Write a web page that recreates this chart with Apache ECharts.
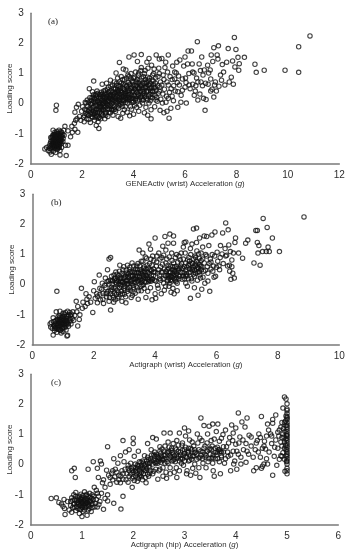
<!DOCTYPE html>
<html><head><meta charset="utf-8">
<style>html,body{margin:0;padding:0;background:#fff}#c{width:354px;height:550px;filter:blur(.35px)}</style>
<script src="https://cdn.jsdelivr.net/npm/echarts@6/dist/echarts.min.js"></script></head>
<body><div id="c"></div>
<script>
const panelLabels=['(a)','(b)','(c)'];
const yName='Loading score';
const xNames=['GENEActiv (wrist) Acceleration (','Actigraph (wrist) Acceleration (','Actigraph (hip) Acceleration ('];
const xMax=[12,10,6];
const xStep=[2,2,1];
const pointsA=[
[.55,-1.5],[.62,-1.45],[.68,-1.55],[.72,-1.4],[.75,-1.6],[.78,-1.25],[.8,-1.68],[.8,-1.5],[.82,-1.35],[.85,-1.1],[.85,-1.45],[.87,-.88],[.88,-1.2],[.88,-1.58],[.9,-1.02],[.9,-1.3],[.92,-1.48],[.92,-1.15],[.94,-.95],[.95,-1.38],[.95,-1.25],[.97,-1.62],[.98,-1.08],[1,-1.42],[1,-1.18],[1,-1.3],[1.02,-.92],[1.03,-1.52],[1.05,-1.22],[1.05,-1.35],[1.07,-1.05],[1.08,-1.45],[1.1,-.88],[1.1,-1.28],[1.12,-1.12],[1.12,-1.38],[1.14,-1.55],[1.15,-1],[1.15,-1.2],[1.18,-1.32],[1.2,-.95],[1.2,-1.45],[1.22,-1.1],[1.25,-1.25],[1.28,-.88],[1.3,-1.05],[1.35,-1.38],[.83,-1.22],[.86,-1.32],[.89,-1.12],[.93,-1.36],[.96,-1.16],[.99,-1.24],[1.01,-1.1],[1.04,-1.42],[1.06,-1.14],[1.09,-1.2],[1.11,-1.33],[1.13,-1.06],[1.17,-1.12],[.91,-1.22],[.97,-1.32],[1.03,-1.28],[1.08,-1],[.94,-1.08],[.87,-1.4],[1.14,-1.7],[1.38,-1.72],[1.0,-.05],[.98,-.22],
[1.33,-.75],[1.45,-.9],[1.55,-1.1],[1.62,-.95],[1.6,-.75],[1.7,-.65],[1.75,-.55],[1.83,-.95],[1.72,-.85],[1.45,-1.38],[1.8,-.5],[1.9,-.42],[1.85,-.02],[1.78,-.12],[1.72,-.28],[1.95,-.55],[1.98,-.25],[2.02,-.1],[2.05,-.45],[2.08,-.6],[2.1,-.18],[2.12,.05],[2.15,-.32],[2.18,-.5],[2.2,.12],[2.22,-.08],[2.25,-.38],[2.28,.5],[2.28,-.2],[2.32,-.62],[2.35,0],[2.35,-.28],[2.38,.2],[2.4,.4],[2.4,-.45],[2.42,-.12],[2.45,.75],[2.45,.08],[2.48,-.55],[2.5,-.3],[2.52,.28],[2.52,-.05],[2.55,-.72],[2.55,-.18],[2.58,.42],[2.6,.1],[2.6,-.42],[2.62,-.6],[2.65,-.82],[2.65,-.1],[2.68,.3],[2.68,-.28],[2.7,.02],[2.72,.18],[2.72,-.5],[2.75,.38],[2.75,-.2],[2.78,.65],[2.78,-.02],[2.8,-.38],[2.82,.12],[2.85,.25],[2.85,-.12],[2.88,-.5],[2.9,.45],[2.9,.05],[2.92,-.28],[2.95,.68],[2.95,.15],[2.98,-.05],[3,.32],[3,-.42],[3.02,.55],[3.05,.08],[3.05,-.18],[3.08,.22],[3.1,.78],[3.1,-.3],[3.12,.42],[3.15,0],[3.18,.62],[3.18,.15],[3.2,-.38],[3.22,.3],[3.25,.72],[3.25,-.1],[3.28,.48],[3.3,.18],[3.3,-.25],[3.32,1.02],[3.35,.6],[3.35,.05],[3.38,.85],[3.4,.35],[3.4,-.42],[3.42,-.15],[3.45,1.37],[3.45,.72],[3.45,.22],[3.48,.5],[3.5,-.02],[3.5,-.48],[3.52,.9],[3.55,.38],[3.55,.12],[3.58,-.32],[3.6,1.15],[3.6,.65],[3.62,.25],[3.65,.8],[3.65,.45],[3.68,-.1],[3.7,1.12],[3.7,.05],[3.72,.58],[3.75,-.28],[3.78,.95],[3.8,.3],[3.8,.7],[3.82,1.55],[3.85,.15],[3.85,-.4],[3.88,.5],[3.9,1],[3.9,.82],[3.92,-.18],[3.95,.38],[3.98,.62],[4,.05],[4,-.35],[4.02,1.62],[4.05,.25],[4.05,.88],[4.08,.48],[4.1,.72],[4.12,-.12],[4.15,1.4],[4.15,.55],[4.18,.32],[4.2,1.02],[4.2,-.25],[4.22,.15],[4.25,.78],[4.28,.42],[4.3,1.63],[4.3,1.2],[4.32,.62],[4.35,.02],[4.38,.9],[4.4,.35],[4.42,-.3],[4.45,1.1],[4.45,.52],[4.48,.72],[4.5,.18],[4.52,1.38],[4.55,-.38],[4.55,.88],[4.58,.42],[4.6,1.5],[4.62,.62],[4.65,.1],[4.68,-.5],[4.7,1.28],[4.72,.78],[4.75,.3],[4.78,1],[4.8,.52],[4.82,-.1],[4.85,.68],[4.88,1.62],[4.9,.2],[4.95,.9],[4.98,1.18],[5,1.48],[5,.42],[5.03,-.22],[5.05,.72],[5.1,1.5],[5.12,.02],[5.15,.95],[5.18,-.3],[5.2,.48],[5.25,1.38],[5.28,.25],[5.3,-.25],[5.32,1.05],[5.35,1.62],[5.35,.62],[5.38,-.48],[5.4,.38],[5.45,-.15],[5.5,.8],[5.52,1.25],[5.55,.1],[5.6,1.05],[5.62,.42],[5.68,1.38],[5.7,.7],[5.72,-.12],[5.75,.92],[5.8,1.45],[5.85,.28],[5.9,.82],[5.95,1.25],[6,1.55],[6,.55],[6.02,.85],[6.05,.02],[6.1,1.32],[6.12,1.75],[6.15,1],[6.2,.5],[6.25,1.75],[6.28,1.32],[6.3,.65],[6.35,1.02],[6.4,.42],[6.45,.85],[6.48,2.06],[6.5,.12],[6.55,1.32],[6.58,.32],[6.62,.72],[6.65,1.55],[6.7,.95],[6.72,.18],[6.75,1.12],[6.78,-.22],[6.8,.68],[6.82,.14],[6.88,1.28],[6.92,1.02],[6.98,1.12],[7.0,.82],[7.02,1.62],[7.05,.48],[7.08,1.4],[7.12,.22],[7.12,1.86],[7.18,.72],[7.22,.42],[7.25,1.62],[7.28,1.48],[7.3,1.92],[7.32,.58],[7.38,.95],[7.42,.78],[7.45,1.3],[7.5,1.05],[7.55,.62],[7.62,1.38],[7.68,1.83],[7.72,.72],[7.8,.88],[7.85,1.42],[7.88,.65],[7.92,2.2],[7.98,1.8],[7.94,1.22],[8.06,1.54],[8.11,1.33],[8.09,1.11],[8.31,1.54],[8.72,1.31],[8.77,1.04],[9.08,1.11],[9.89,1.11],[10.42,1.89],[10.42,1.04],[10.86,2.25],
[2.3,-.15],[2.45,-.25],[2.5,.15],[2.55,-.4],[2.62,.05],[2.66,.2],[2.7,-.12],[2.74,-.35],[2.8,.22],[2.84,-.22],[2.88,.35],[2.92,-.1],[2.96,.24],[3.02,.12],[3.06,.4],[3.12,-.08],[3.16,.26],[3.2,.06],[3.26,.35],[3.3,.5],[3.36,-.12],[3.42,.42],[3.46,.08],[3.52,.3],[3.58,.52],[3.62,.1],[3.68,.34],[3.74,.6],[3.78,.2],[3.84,.44],[3.92,.28],[3.98,.18],[4.06,.6],[4.14,.38],[4.2,.5],[4.26,.6],[4.34,.48],[4.42,.68],[4.5,.58],[4.58,.25],[4.66,.42]
];
const extraA=[
[.82,-1.12],[.84,-1.28],[.86,-1.05],[.88,-1.36],[.9,-1.42],[.92,-1.05],[.93,-1.29],[.95,-1.02],[.96,-1.44],[.98,-1.18],[.99,-1.36],[1.01,-1],[1.02,-1.2],[1.03,-1.38],[1.05,-1.1],[1.05,-1.48],[1.06,-.98],[1.08,-1.3],[1.09,-1.38],[1.1,-1.08],[1.11,-1.45],[1.13,-1.25],[1.14,-1.16],[1.16,-1.28],[1.17,-.92],[1.19,-1.06],[1.2,-1.22],[1.24,-1.02],[1.26,-1.15],[.8,-1.42],[.78,-1.12],[.76,-1.32],[.74,-1.48],
[2.1,-.4],[2.15,.02],[2.18,-.22],[2.2,-.35],[2.24,.05],[2.26,-.52],[2.3,.2],[2.32,-.35],[2.34,.1],[2.38,-.18],[2.4,.02],[2.42,-.35],[2.44,.3],[2.46,-.1],[2.48,.18],[2.5,-.45],[2.52,.05],[2.54,-.28],[2.56,.22],[2.58,-.05],[2.6,-.3],[2.62,.35],[2.64,-.2],[2.66,.05],[2.68,-.45],[2.7,.25],[2.72,-.08],[2.74,.1],[2.76,-.3],[2.78,.32],[2.8,.02],[2.82,-.18],[2.84,.42],[2.86,.08],[2.88,-.05],[2.9,.2],[2.92,-.38],[2.94,.3],[2.96,0],[2.98,.48],[3,.1],[3,-.15],[3.02,.38],[3.04,-.28],[3.06,.18],[3.08,-.05],[3.1,.3],[3.12,.58],[3.14,-.18],[3.16,.12],[3.18,.38],[3.2,-.05],[3.22,.52],[3.24,.1],[3.26,.22],[3.28,-.18],[3.3,.38],[3.32,.08],[3.34,.68],[3.36,.25],[3.38,.45],[3.4,.12],[3.42,.6],[3.44,-.05],[3.46,.32],[3.48,.15],[3.5,.42],[3.52,.68],[3.54,.02],[3.56,.25],[3.58,.8],[3.6,.12],[3.62,.48],[3.64,-.2],[3.66,.62],[3.68,.18],[3.7,.4],[3.72,.85],[3.74,.28],[3.76,.02],[3.78,.5],[3.8,.12],[3.82,.9],[3.84,.65],[3.86,.32],[3.88,-.1],[3.9,.18],[3.92,.55],[3.94,.75],[3.96,.05],[3.98,.42],[4,.85],[4.02,.28],[4.04,-.05],[4.06,.42],[4.08,1.05],[4.1,.18],[4.12,.62],[4.14,.8],[4.16,.1],[4.18,.95],[4.2,.28],[4.22,.68],[4.24,-.05],[4.26,.4],[4.28,1.1],[4.3,.22],[4.32,.85],[4.34,.3],[4.36,.68],[4.38,.12],[4.4,.55],[4.42,1],[4.44,.22],[4.46,.8],[4.48,-.12],[4.5,.4],[4.52,.7],[4.54,.12],[4.56,1.18],[4.58,.62],[4.6,.02],[4.62,.85],[4.64,.3],[4.66,.68],[4.68,-.2],[4.7,.55],[4.72,.2],[4.74,.95],[4.76,.4],[4.78,.62],[4.8,1.15],[4.84,.28],[4.86,.85],[4.88,.45],[4.92,.08],[4.94,.6],[4.96,.35],[5,1],[5.02,.55],[5.06,.15],[5.1,.62],[5.14,.32],[5.18,.8],[5.22,1.2],[5.26,.05],[5.3,.72],[5.35,.18],[5.42,.9],[5.46,.5],[5.5,.25],[5.56,.6],[5.6,.82],[5.66,1.02],[5.72,.4],[5.78,.62],[5.84,.05],[5.9,.45],[6.04,.7],[6.16,.62],[6.3,1.05],[6.36,.28],[6.42,.6],[6.5,.72],[6.6,1.1],[6.68,.6],[6.9,.65],[7,.42],[7.15,.62],
[2.25,-.25],[2.33,-.02],[2.37,-.42],[2.43,.22],[2.47,-.34],[2.53,-.22],[2.57,.32],[2.63,-.48],[2.67,-.02],[2.73,.3],[2.77,-.12],[2.83,.02],[2.87,.18],[2.91,-.32],[2.97,.08],[3.03,-.08],[3.07,.28],[3.13,.18],[3.17,-.22],[3.23,-.2],[3.27,.12],[3.33,.28],[3.37,.4],[3.43,.02],[3.47,.58],[3.53,.2],[3.57,-.08],[3.63,.35],[3.67,.28],[3.73,.12],[3.77,.42],[3.83,.22],[3.87,.62],[3.93,.1],[3.97,.72],[4.03,.5],[4.07,.12],[4.13,.25],[4.17,.7],[4.23,.52],[4.27,.22],[4.33,.12],[4.37,.4],[4.43,.28],[4.47,.55],[4.53,.42],[4.57,.78],[4.63,.5],[4.67,.22],[4.73,.42],[4.77,.75],[4.83,.55],[4.87,.12]
];
const pointsB=[
[.58,-1.3],[.6,-1.4],[.62,-1.25],[.65,-1.45],[.68,-1.67],[.68,-1.1],[.7,-1.35],[.72,-1.52],[.74,-1.22],[.76,-1.42],[.78,-.9],[.78,-1.3],[.8,-1.58],[.82,-1.15],[.84,-1.4],[.86,-1.28],[.88,-1.02],[.9,-.88],[.9,-1.5],[.9,-1.2],[.92,-1.36],[.94,-1.6],[.96,-1.1],[.96,-1.28],[.98,-1.45],[1,-.95],[1,-1.18],[1,-1.55],[1.02,-1.32],[1.04,-1.05],[1.06,-1.42],[1.06,-1.22],[1.08,-.92],[1.1,-1.12],[1.1,-1.5],[1.12,-1.3],[1.13,-1.7],[1.15,-.88],[1.15,-1.68],[1.16,-1.05],[1.18,-1.38],[1.2,-1.2],[1.22,-.92],[1.24,-1.02],[1.26,-1.3],[1.3,-1.12],[1.32,-.9],[1.35,-1.18],[1.38,-1.02],[.8,-.22],[.84,-1.34],[.88,-1.14],[.93,-1.24],[.97,-1.38],[1.03,-1.16],[1.07,-1.3],[1.11,-1.2],[.86,-1.48],[.75,-1.3],
[1.43,-.55],[1.45,-.9],[1.48,-.72],[1.48,-1.37],[1.53,-1.15],[1.55,-1],[1.6,-.12],[1.63,-.78],[1.65,-.58],[1.72,-.72],[1.75,-.3],[1.78,-.48],[1.8,-.62],[1.85,-.4],[1.9,-.58],[1.97,-.92],[2,-.2],[2.02,.1],[2.05,-.45],[2.1,-.3],[2.12,-.6],[2.18,.32],[2.2,-.12],[2.22,-.5],[2.28,.05],[2.3,-.28],[2.32,-.62],[2.38,.22],[2.4,-.1],[2.42,-.4],[2.45,.5],[2.48,.12],[2.5,-.55],[2.5,.85],[2.55,.9],[2.55,-.84],[2.55,-.2],[2.58,.28],[2.6,.02],[2.62,-.35],[2.65,-.58],[2.68,.2],[2.7,-.12],[2.72,.42],[2.75,.05],[2.78,-.45],[2.8,-.25],[2.82,.3],[2.85,.65],[2.88,.12],[2.9,-.05],[2.92,-.55],[2.95,.5],[2.98,.22],[3,-.32],[3.02,.05],[3.05,-.6],[3.08,.38],[3.1,.65],[3.12,-.15],[3.15,.12],[3.18,.58],[3.2,.3],[3.22,-.42],[3.25,.72],[3.28,-.02],[3.3,.2],[3.32,.45],[3.35,-.28],[3.38,.08],[3.4,.62],[3.42,.3],[3.45,-.48],[3.48,1.15],[3.5,.15],[3.52,.5],[3.55,.78],[3.55,-.2],[3.58,.35],[3.6,1.05],[3.62,0],[3.65,.6],[3.68,.22],[3.7,-.42],[3.72,.88],[3.75,.42],[3.78,.1],[3.8,1.35],[3.82,.7],[3.85,1.18],[3.85,-.1],[3.88,.3],[3.9,-.5],[3.92,.95],[3.95,.52],[3.98,.15],[4,1.55],[4,-.3],[4.02,-.45],[4.05,.75],[4.08,.38],[4.1,-.12],[4.12,1.05],[4.15,.2],[4.18,.6],[4.2,-.3],[4.22,.9],[4.25,1.28],[4.25,.42],[4.28,.05],[4.3,-.18],[4.32,1.6],[4.35,.72],[4.35,1.15],[4.4,.32],[4.42,1.38],[4.45,.55],[4.45,-.05],[4.48,1.68],[4.5,.15],[4.52,-.25],[4.55,.8],[4.58,.38],[4.6,1.38],[4.6,1.62],[4.62,-.3],[4.65,.6],[4.68,.1],[4.7,1],[4.72,-.2],[4.75,.48],[4.8,.28],[4.82,.82],[4.85,1.05],[4.9,.55],[4.92,1.25],[4.95,1.4],[5,1.42],[5,.05],[5,.72],[5.02,.35],[5.05,-.05],[5.1,.9],[5.12,.52],[5.15,1.2],[5.15,-.45],[5.18,.2],[5.2,1.35],[5.22,.7],[5.25,1.85],[5.28,-.1],[5.3,.95],[5.32,.38],[5.35,1.4],[5.35,1.88],[5.38,.58],[5.4,-.35],[5.42,1.02],[5.45,1.55],[5.48,.22],[5.5,.8],[5.52,-.15],[5.55,1.25],[5.58,.45],[5.6,1.62],[5.62,.05],[5.65,1],[5.68,1.6],[5.7,.6],[5.72,.12],[5.75,1.3],[5.78,-.22],[5.8,.85],[5.82,.75],[5.85,1.65],[5.88,.45],[5.92,.25],[5.95,1.75],[5.97,.28],[6,.58],[6.02,1.08],[6.1,.5],[6.13,1.3],[6.18,1.02],[6.2,1.72],[6.22,.7],[6.28,1.2],[6.3,2.05],[6.33,.98],[6.38,1.82],[6.4,1.32],[6.42,.65],[6.43,.45],[6.45,1.1],[6.47,.18],[6.5,.82],[6.53,.38],[6.55,1.05],[6.58,.22],[6.6,1.4],[6.62,1.55],[6.72,1.05],[6.85,.88],[6.95,1.38],[7.02,1.48],[7.22,.72],[7.28,1.8],[7.33,1.8],[7.33,1.4],[7.35,1.05],[7.38,1.3],[7.42,.65],[7.5,1.1],[7.52,2.2],[7.62,1.1],[7.65,1.9],[7.68,1.25],[7.72,1.1],[7.82,1.55],[8.05,1.1],[8.85,2.25],
[2.6,-.15],[2.68,-.28],[2.74,.14],[2.78,.25],[2.84,-.1],[2.88,-.32],[2.94,.08],[2.98,-.12],[3.04,.28],[3.08,.02],[3.14,.36],[3.18,-.08],[3.24,.16],[3.28,-.24],[3.32,.08],[3.36,.28],[3.42,-.1],[3.46,.4],[3.52,.18],[3.56,.08],[3.6,.42],[3.64,.26],[3.7,.52],[3.76,.18],[3.82,.36],[3.9,.2],[4.35,.3],[4.4,.5],[4.45,.22],[4.5,.42],[4.55,.12],[4.6,.3],[4.65,.45],[4.7,.22],[5.2,.5],[5.25,.35],[5.3,.62],[5.35,.78],[5.4,.42],[5.45,.66],[5.5,.5],[5.55,.85]
];
const extraB=[
[.7,-1.22],[.72,-1.38],[.74,-1.45],[.78,-1.18],[.8,-1.36],[.82,-1.48],[.84,-1.06],[.86,-1.2],[.88,-1.4],[.9,-1.08],[.92,-1.52],[.94,-1.18],[.95,-1.32],[.98,-1.05],[.99,-1.26],[1.01,-1.42],[1.02,-1.12],[1.04,-1.28],[1.05,-.98],[1.08,-1.18],[1.09,-1.38],[1.12,-1.05],[1.14,-1.22],[1.17,-1.3],[1.19,-1],[1.22,-1.12],[1.25,-1.2],[1.28,-.98],
[2.12,-.38],[2.2,-.32],[2.26,-.15],[2.3,-.48],[2.36,-.02],[2.4,-.3],[2.44,.1],[2.46,-.22],[2.5,.02],[2.52,-.42],[2.54,.15],[2.58,-.08],[2.62,.12],[2.64,-.42],[2.66,.32],[2.7,-.5],[2.72,.08],[2.74,-.32],[2.76,.35],[2.8,.1],[2.82,-.4],[2.84,.45],[2.86,0],[2.88,.22],[2.9,-.22],[2.92,.38],[2.96,.1],[2.98,.6],[3,-.05],[3.02,.25],[3.04,-.4],[3.06,.48],[3.08,.15],[3.1,-.22],[3.12,.28],[3.14,.02],[3.16,.5],[3.2,-.18],[3.22,.12],[3.24,.42],[3.26,-.35],[3.28,.3],[3.3,.62],[3.34,.18],[3.36,.52],[3.38,-.05],[3.4,.4],[3.42,.12],[3.44,.7],[3.46,-.2],[3.48,.25],[3.5,.62],[3.54,-.05],[3.56,.45],[3.58,.15],[3.6,.78],[3.62,.3],[3.64,-.12],[3.66,.42],[3.68,.92],[3.7,.08],[3.72,.3],[3.74,.65],[3.76,-.22],[3.78,.55],[3.8,.15],[3.84,.5],[3.86,.85],[3.88,.12],[3.9,.65],[3.94,.3],[3.96,.8],[4,.42],[4.02,.12],[4.04,.62],[4.06,.95],[4.08,-.02],[4.12,.5],[4.14,.3],[4.16,.85],[4.18,.15],[4.2,.42],[4.24,.68],[4.26,.2],[4.28,.98],[4.3,.52],[4.32,.3],[4.34,-.05],[4.36,.45],[4.38,.85],[4.4,.12],[4.42,.65],[4.44,.3],[4.46,.92],[4.48,.05],[4.5,.62],[4.52,.28],[4.54,1.05],[4.56,.5],[4.58,-.12],[4.6,.72],[4.62,.2],[4.64,.42],[4.66,.9],[4.68,.32],[4.7,.6],[4.72,.05],[4.74,.75],[4.76,.3],[4.78,.95],[4.8,.55],[4.84,.42],[4.86,.7],[4.88,.18],[4.92,.85],[4.94,.4],[4.96,.6],[4.98,1.05],[5,.28],[5.04,.58],[5.06,.82],[5.08,.2],[5.1,.4],[5.14,.68],[5.16,1],[5.2,.12],[5.22,.52],[5.26,.85],[5.28,.28],[5.32,.68],[5.36,1.12],[5.38,.15],[5.42,.55],[5.44,.88],[5.46,.32],[5.5,1.05],[5.52,.6],[5.56,.25],[5.6,.72],[5.64,.48],[5.68,.95],[5.72,.38],[5.76,.7],[5.82,.52],[5.86,1],[5.9,.62],[5.94,.95],[6.04,.78],[6.08,.62],[6.12,.9],[6.3,.95],[6.36,.62],[6.5,.6],
[2.43,-.28],[2.56,-.3],[2.6,.15],[2.66,-.1],[2.7,.22],[2.76,-.18],[2.82,.02],[2.86,.2],[2.9,.1],[2.94,-.3],[2.98,.32],[3.02,-.18],[3.06,.12],[3.1,.02],[3.14,.22],[3.18,.42],[3.22,.05],[3.26,.28],[3.3,-.1],[3.34,.4],[3.38,.22],[3.42,.5],[3.46,.12],[3.5,.28],[3.54,.38],[3.58,-.02],[3.62,.55],[3.66,.1],[3.7,.3],[3.74,.22],[3.78,.4],[3.84,.12],[3.88,.48],[3.92,.18],[3.96,.42],[4.42,.15],[4.46,.42],[4.5,.3],[4.54,.25],[4.58,.6],[4.62,.48],[4.66,.15],[4.7,.38],[4.74,.55],[4.78,.2],[4.84,.62],[4.88,.4],[4.92,.3],[4.96,.2],[5,.5],[5.04,.3],[5.08,.65],[5.12,.78],[5.16,.42],[5.2,.72],[5.24,.58],[5.28,.48],[5.32,.9],[5.36,.5],[5.4,.72],[5.44,.42],[5.48,.62]
];
const pointsC=[
[.4,-1.12],[.5,-1.1],[.55,-1.25],[.6,-1.3],[.63,-1.38],[.65,-1.15],[.66,-1.45],[.67,-1.65],[.72,-1.22],[.75,-1.5],[.78,-1.35],[.8,-1.1],[.8,-1.58],[.82,-1.42],[.84,-1],[.85,-1.28],[.88,-1.52],[.88,-.92],[.9,-1.18],[.9,-1.38],[.92,-1.1],[.94,-1.3],[.95,-1.62],[.96,-1.48],[.98,-.98],[.98,-1.22],[1,-1.72],[1,-1.4],[1,-1.08],[1.02,-1.55],[1.02,-1.3],[1.04,-1.18],[1.05,-.9],[1.06,-1.42],[1.08,-1.02],[1.08,-1.28],[1.1,-1.68],[1.1,-1.12],[1.12,-1.5],[1.12,-1.36],[1.14,-1.22],[1.15,-.95],[1.16,-1.08],[1.18,-1.55],[1.18,-1.3],[1.2,-1.42],[1.2,-1],[1.22,-1.15],[1.24,-.75],[1.26,-1.28],[1.28,-.85],[1.3,-1.4],[1.32,-1.05],[1.35,-1.22],[1.38,-.95],[1.42,-1.48],[1.45,-1.12],[1.5,-1.2],[1.5,-1],[1.62,-1.28],[1.76,-1.47],[1.8,-1.05],[.96,-1.16],[1,-1.25],[1.04,-1.35],[.92,-1.25],[1.06,-1.12],[1.1,-1.25],[1.14,-1.38],[.98,-1.48],[.86,-1.15],[1.16,-1.18],
[.8,-.2],[.85,-.12],[.87,-.42],[1.12,-.15],[1.22,.1],[1.3,-.12],[1.32,-.42],[1.36,.12],[1.38,.02],[1.4,-.6],[1.42,-.5],[1.45,-.75],[1.48,-.18],[1.5,.6],[1.52,-.35],[1.55,-.65],[1.58,-.28],[1.6,-.5],[1.62,.2],[1.65,-.15],[1.68,-.58],[1.7,.05],[1.72,-.35],[1.75,.3],[1.75,-.6],[1.78,-.2],[1.8,.8],[1.8,-.48],[1.82,.1],[1.85,.42],[1.88,-.3],[1.9,-.58],[1.92,.5],[1.95,.05],[1.98,-.75],[1.98,-.18],[2,.88],[2,.7],[2,-.4],[2.02,.28],[2.05,-.1],[2.08,-.55],[2.1,.45],[2.12,-.28],[2.15,.08],[2.18,-.5],[2.2,-.15],[2.22,.3],[2.25,-.6],[2.25,.02],[2.28,.7],[2.28,-.32],[2.3,.18],[2.32,-.1],[2.35,.5],[2.38,.9],[2.4,-.22],[2.42,.08],[2.45,.85],[2.45,.35],[2.48,-.48],[2.5,.12],[2.52,.6],[2.52,-.15],[2.55,.28],[2.58,-.38],[2.6,1.05],[2.6,.45],[2.62,.05],[2.65,-.45],[2.68,.75],[2.7,.22],[2.72,1.05],[2.72,-.1],[2.75,.55],[2.78,.35],[2.8,-.25],[2.82,.1],[2.85,.8],[2.85,-.42],[2.88,.45],[2.9,1.05],[2.92,.2],[2.95,.65],[2.98,-.02],[3,1.22],[3,.38],[3.02,.95],[3.05,-.2],[3.08,1.12],[3.08,.55],[3.1,.15],[3.12,-.35],[3.15,.75],[3.18,.3],[3.2,.02],[3.22,-.28],[3.25,1.02],[3.28,.5],[3.3,.88],[3.3,-.42],[3.32,1.55],[3.35,.2],[3.38,1.3],[3.4,.62],[3.42,-.1],[3.45,1.02],[3.48,1.28],[3.5,.35],[3.52,.8],[3.55,.05],[3.55,1.35],[3.58,-.38],[3.6,.55],[3.62,1.1],[3.65,1.35],[3.65,.2],[3.68,.78],[3.7,-.3],[3.72,.42],[3.75,1],[3.78,.05],[3.8,1.15],[3.82,.6],[3.85,.28],[3.88,.9],[3.9,-.2],[3.92,1.32],[3.95,.45],[3.95,1.05],[3.98,.12],[4,.68],[4,1.22],[4.02,-.15],[4.05,1.72],[4.05,.35],[4.08,.92],[4.1,.02],[4.12,1.42],[4.15,.5],[4.18,1.25],[4.2,.08],[4.2,.7],[4.22,1.55],[4.25,.35],[4.3,.92],[4.35,-.2],[4.38,.5],[4.4,-.1],[4.42,.8],[4.45,1.02],[4.48,.25],[4.5,1.6],[4.52,-.05],[4.55,.62],[4.6,.95],[4.62,1.35],[4.65,.42],[4.68,1.02],[4.7,.7],[4.72,1.38],[4.75,.28],[4.78,1.65],[4.8,-.02],[4.82,.55],[4.85,1.15],[4.88,.3],[4.9,.9],[5,1.55],[4.72,-.35],[4.62,.02],[4.55,.02],[4.5,-.12],
[4.72,1.5],[4.58,.52],[4.78,.82],[4.82,1.08],[4.85,.18],[4.88,1.25],[4.9,.62],[4.92,1.88],[4.92,.4],[4.95,2.25],[4.95,1.4],[4.96,-.22],[4.98,.85],[4.98,2.18],[4.98,1.62],[5,2.02],[5,1.85],[5,1.8],[5,1.7],[5,1.6],[5,1.5],[5,1.4],[5,1.32],[5,1.25],[5,1.18],[5,1.1],[5,1.02],[5,.95],[5,.88],[5,.8],[5,.72],[5,.65],[5,.58],[5,.5],[5,.42],[5,.35],[5,.28],[5,.2],[5,.12],[5,.02],[5,-.12],[5,-.2],[5,-.3],[4.95,.18],[4.92,1.02],[4.9,.28],[4.88,.75],[4.95,.55],[4.95,.75],[4.93,1.2],
[2.05,-.2],[2.1,-.05],[2.14,-.35],[2.18,-.12],[2.22,-.2],[2.26,.12],[2.3,-.05],[2.34,.2],[2.38,.02],[2.42,.28],[2.46,.1],[2.5,.22],[2.54,.38],[2.58,.15],[2.62,.3],[2.66,.1],[2.7,.42],[2.74,.25],[2.78,.15],[2.84,.32],[2.9,.12],[2.96,.48],[3.02,.28],[3.08,.35],[3.14,.18],[3.2,.4],[3.3,.25],[3.4,.35],[3.5,.55],[3.55,.22],[3.6,.4],[3.66,.5],[3.72,.25],[1.9,-.12],[1.95,-.3],[2,-.08],[2.05,-.38],[2.12,-.18],[2.16,-.25]
];
const extraC=[
[.78,-1.22],[.82,-1.18],[.84,-1.32],[.86,-1.42],[.88,-1.05],[.9,-1.28],[.92,-1.45],[.94,-1.2],[.95,-1.05],[.96,-1.36],[.98,-1.12],[.99,-1.3],[1,-1.15],[1.01,-1.42],[1.02,-1.02],[1.03,-1.22],[1.05,-1.5],[1.06,-1.3],[1.07,-1.2],[1.08,-1.38],[1.09,-.98],[1.11,-1.18],[1.12,-1.05],[1.13,-1.3],[1.15,-1.45],[1.17,-1.22],[1.19,-1.12],[1.21,-1.3],[1.23,-1.05],[1.25,-1.4],[1.28,-1.15],[1.3,-.95],[1.33,-1.32],
[1.55,-.42],[1.6,-.2],[1.64,-.4],[1.68,-.25],[1.72,-.5],[1.76,-.38],[1.8,-.3],[1.84,-.15],[1.86,-.5],[1.9,-.02],[1.92,-.38],[1.96,-.12],[2,-.25],[2.02,-.52],[2.04,.02],[2.06,-.28],[2.08,-.12],[2.1,-.45],[2.12,.1],[2.14,-.1],[2.16,-.4],[2.18,.12],[2.2,-.3],[2.22,-.02],[2.24,-.42],[2.26,-.12],[2.28,.25],[2.3,-.38],[2.32,.05],[2.34,-.2],[2.36,.32],[2.38,-.3],[2.4,.15],[2.42,.42],[2.44,-.15],[2.46,.28],[2.48,.05],[2.5,-.2],[2.52,.45],[2.54,.08],[2.56,.52],[2.58,-.1],[2.6,.2],[2.62,.62],[2.64,-.25],[2.66,.4],[2.68,.05],[2.7,.58],[2.72,-.3],[2.74,.48],[2.76,.12],[2.78,.7],[2.8,.3],[2.82,.55],[2.84,-.1],[2.86,.22],[2.88,.65],[2.9,-.2],[2.92,.42],[2.94,.05],[2.96,.72],[2.98,.3],[3,.12],[3.02,.58],[3.04,-.3],[3.06,.42],[3.08,.12],[3.1,.82],[3.12,.3],[3.14,.5],[3.16,-.12],[3.18,.62],[3.22,.42],[3.24,.18],[3.26,.72],[3.28,-.1],[3.32,.45],[3.34,.8],[3.36,.05],[3.38,.55],[3.42,.3],[3.44,.72],[3.46,.1],[3.48,.5],[3.52,.22],[3.54,.62],[3.56,-.2],[3.58,.85],[3.62,.32],[3.64,.58],[3.68,.1],[3.7,.45],[3.72,.88],[3.76,.6],[3.8,.2],[3.84,.42],[3.86,.72],[3.9,.32],[3.94,.8],[3.96,.02],[4.02,.45],[4.06,.72],[4.1,.25],[4.14,.82],[4.22,.45],[4.26,.98],[4.3,.62],[4.34,.25],[4.4,.72],[4.44,.42],[4.48,.9],[4.52,.55],[4.56,.78],[4.6,.2],[4.64,1.15],[4.7,.95],[4.76,.58],[4.84,.95],[4.9,1.4],[4.94,.92],[4.96,1.1],[4.98,.3],[4.98,.5],[4.98,1.3],[4.97,.65],[4.97,1.45],[4.99,.1],[4.99,.98],
[1.92,-.2],[1.98,-.45],[2.04,-.22],[2.08,-.02],[2.12,-.38],[2.16,-.02],[2.2,.05],[2.24,-.18],[2.28,.05],[2.32,-.28],[2.36,.12],[2.4,.32],[2.44,.05],[2.48,.25],[2.52,.2],[2.56,.18],[2.6,.32],[2.64,.22],[2.68,.45],[2.72,.3],[2.76,.4],[2.8,.18],[2.84,.5],[2.88,.28],[2.92,.32],[2.96,.2],[3,.5],[3.04,.25],[3.08,.42],[3.12,.55],[3.16,.28],[3.2,.5],[3.24,.35],[3.28,.22],[3.32,.32],[3.36,.42],[3.4,.25],[3.44,.45],[3.48,.2],[3.52,.5],[3.56,.32],[3.6,.2],[3.64,.42],[3.68,.5],[3.72,.3],[3.76,.42]
];
const pointSets=[pointsA.concat(extraA),pointsB.concat(extraB),pointsC.concat(extraC)];
const grids=[{left:30.7,right:14.7,top:13.3,height:150.7,outerBoundsMode:'none'},{left:32.3,right:14.7,top:194.3,height:150.7,outerBoundsMode:'none'},{left:30.7,right:15.7,top:374.3,height:150.7,outerBoundsMode:'none'}];
const labelPos=[[48,17],[51,198],[51,378]];
const axisCol='#7a7a7a',txt='#2e2e2e',sans='"Liberation Sans",Arial,sans-serif';
const chart=echarts.init(document.getElementById('c'),null,{renderer:'canvas'});
chart.setOption({
 animation:false,backgroundColor:'#fff',
 grid:grids,
 xAxis:xMax.map((m,i)=>({type:'value',gridIndex:i,min:0,max:m,interval:xStep[i],splitLine:{show:false},axisTick:{show:false},
  axisLine:{onZero:false,lineStyle:{color:axisCol,width:1.5}},
  axisLabel:{color:txt,fontSize:10,fontFamily:sans,margin:6},
  name:'{n|'+xNames[i]+'}{i|g}{n|)}',nameLocation:'middle',nameGap:16,nameMoveOverlap:false,
  nameTextStyle:{rich:{n:{fontSize:7.8,color:txt,fontFamily:sans},i:{fontSize:7.8,color:txt,fontFamily:sans,fontStyle:'italic'}}}})),
 yAxis:xMax.map((m,i)=>({type:'value',gridIndex:i,min:-2,max:3,interval:1,splitLine:{show:false},axisTick:{show:false},
  axisLine:{onZero:false,lineStyle:{color:axisCol,width:1.5}},
  axisLabel:{color:txt,fontSize:10,fontFamily:sans,margin:7},
  name:yName,nameLocation:'middle',nameGap:17,nameMoveOverlap:false,nameTextStyle:{color:txt,fontSize:8,fontFamily:sans}})),
 series:pointSets.map((d,i)=>({type:'scatter',xAxisIndex:i,yAxisIndex:i,data:d,symbol:'circle',symbolSize:4.4,
  itemStyle:{color:'rgba(255,255,255,0)',borderColor:'#111',borderWidth:1.1},silent:true})),
 graphic:panelLabels.map((t,i)=>({type:'text',left:labelPos[i][0],top:labelPos[i][1],style:{text:t,fill:'#222',font:'9px "Liberation Serif",serif'}}))
});
</script></body></html>
